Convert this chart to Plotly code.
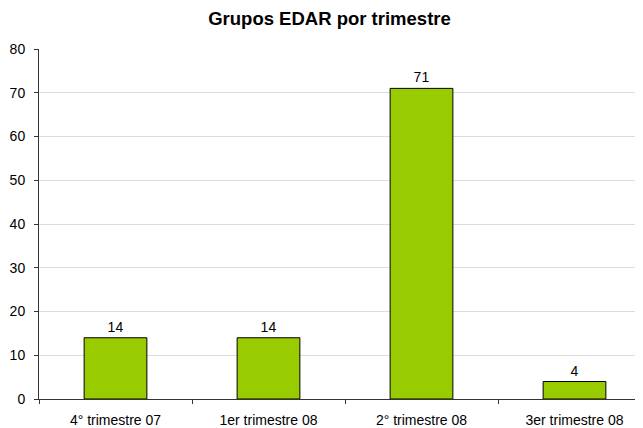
import plotly.graph_objects as go

categories = ["4° trimestre 07", "1er trimestre 08", "2° trimestre 08", "3er trimestre 08"]
values = [14, 14, 71, 4]
y_ticks = [0, 10, 20, 30, 40, 50, 60, 70, 80]

fig = go.Figure()
fig.add_trace(go.Bar(
    x=categories, y=values,
    marker=dict(color="#99CC00", line=dict(color="#000000", width=1)),
    width=0.41,
    text=[str(v) for v in values], textposition="outside",
    textfont=dict(family="Liberation Sans, Arial", size=14, color="#000000"),
    cliponaxis=False,
))
fig.update_layout(
    width=643, height=428,
    margin=dict(l=31, r=0, t=41, b=37),
    paper_bgcolor="white", plot_bgcolor="white",
    showlegend=False,
    title=dict(text="<b>Grupos EDAR por trimestre</b>", x=0.5, xanchor="center",
               y=1 - 11 / 428, yanchor="middle",
               font=dict(family="Liberation Sans, Arial", size=18.5, color="#000000")),
    font=dict(family="Liberation Sans, Arial", size=14, color="#000000"),
)
fig.update_xaxes(
    range=[-0.5, 3.5], automargin=False,
    showline=True, linecolor="#333333", linewidth=1,
    ticks="outside", tickson="boundaries", ticklen=4, tickcolor="#333333",
    ticklabelstandoff=8,
    showgrid=False,
    tickfont=dict(size=14, color="#000000"),
)
fig.update_yaxes(
    range=[0, 80], tickvals=y_ticks, automargin=False,
    showline=True, linecolor="#333333", linewidth=1,
    ticks="outside", ticklen=4, tickcolor="#333333",
    ticklabelstandoff=6,
    showgrid=True, gridcolor="#dcdcdc", gridwidth=1,
    zeroline=False,
    tickfont=dict(size=14, color="#000000"),
)
fig.write_html("out.html")
